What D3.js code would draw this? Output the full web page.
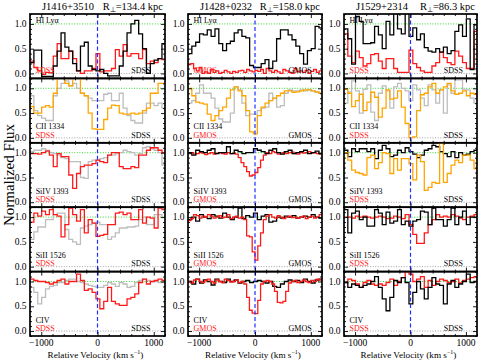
<!DOCTYPE html>
<html><head><meta charset="utf-8">
<script src="https://cdn.jsdelivr.net/npm/d3@7"></script>
<style>body{margin:0;background:#fff}svg{display:block}text{font-family:"Liberation Serif","Times New Roman",serif}</style>
</head><body><svg id="c" width="479" height="364"></svg>
<script>
// ---------- data ----------
const sightlines = ["J1416+3510", "J1428+0232", "J1529+2314"];
const rperp = ["134.4", "158.0", "86.3"];
const instruments = ["SDSS", "GMOS", "SDSS"];
const ions = ["HI Lyα", "CII 1334", "SiIV 1393", "SiII 1526", "CIV"];
const xTicks = [-1000, 0, 1000];
const yTicks = [0.0, 0.5, 1.0];
const velStart = -1200, sdssStep = 69, gmosStep = 50;

// J1416+3510
const j1416_HI_black = [0.22,0.47,0.47,-0.06,-0.06,-0.06,0.15,0.45,0.82,0.53,0.45,0.2,0.05,0.55,0.63,0.15,0.08,0.05,0.08,0.0,-0.05,-0.05,-0.05,0.15,0.45,0.82,1.0,1.07,0.8,0.5,0.0,0.2,0.27,0.3,0.6];
const j1416_HI_red = [0.25,0.12,0.05,-0.02,0.02,0.01,0.35,0.6,0.3,0.3,0.45,0.3,0.05,0.0,0.05,0.05,0.1,0.4,0.03,0.05,0.05,0.1,0.48,0.35,0.58,0.35,0.4,0.4,0.3,0.48,0.2,0.25,0.22,0.3,0.28];
const j1416_CII_orange = [0.63,0.5,0.5,0.62,0.65,0.62,0.9,1.25,1.25,1.1,1.05,1.25,1.25,0.9,0.85,0.5,0.18,0.17,0.17,0.37,0.6,0.66,0.65,0.5,0.48,0.48,0.5,0.48,0.5,0.55,0.6,0.9,0.9,1.1,1.1];
const j1416_CII_gray = [0.85,0.55,0.45,0.4,0.35,0.35,0.85,1.0,1.1,1.15,1.05,1.1,1.0,0.9,0.85,0.8,0.75,0.75,0.75,0.88,0.9,0.75,0.75,0.9,0.6,0.45,0.35,0.3,0.3,0.5,0.7,0.7,0.65,0.7,0.6];
const j1416_SiIV_red = [0.98,0.98,0.97,1.0,1.03,0.95,0.72,0.98,0.92,0.92,0.55,0.28,0.58,0.72,0.75,0.75,0.78,0.85,0.82,0.8,0.95,1.0,1.0,0.72,0.68,0.68,0.72,0.7,0.95,0.95,1.05,1.1,1.1,1.05,1.0];
const j1416_SiIV_gray = [1.02,1.05,1.05,1.08,1.05,1.0,0.98,0.95,0.9,0.88,0.82,0.82,0.82,0.5,0.48,0.82,0.85,0.85,0.88,0.9,0.95,0.95,0.98,1.0,1.05,1.02,1.0,0.95,0.98,1.1,1.12,1.08,1.05,1.0,0.75];
const j1416_SiII_red = [0.9,1.08,1.02,1.12,1.05,1.15,1.05,1.02,0.6,0.85,1.18,1.05,0.92,1.15,0.68,0.95,0.88,0.61,0.63,0.65,0.85,0.85,1.08,1.1,1.05,1.08,0.95,0.95,1.15,0.88,1.0,0.98,0.78,1.18,1.15];
const j1416_SiII_gray = [0.55,0.7,0.8,0.8,0.95,0.95,1.05,1.08,1.08,0.75,0.55,0.5,0.45,0.78,0.82,0.85,0.88,0.9,0.85,0.85,0.55,0.6,0.68,0.78,0.78,0.8,0.8,0.82,0.95,1.0,0.85,0.85,1.05,1.05,1.0];
const j1416_CIV_red = [1.05,1.02,1.0,1.0,0.98,0.95,0.98,1.02,1.05,0.95,1.0,1.0,1.15,1.02,0.82,0.85,0.78,0.65,0.45,0.6,0.88,0.6,0.55,0.52,0.52,0.65,0.68,0.75,0.98,1.05,0.95,1.0,1.02,1.05,1.02];
const j1416_CIV_gray = [0.88,0.78,0.55,0.68,0.85,0.9,0.92,0.98,0.98,1.02,1.05,1.05,1.0,0.98,0.95,0.92,0.9,0.88,0.88,0.92,0.98,0.95,0.9,0.98,0.95,0.88,0.9,0.98,1.02,1.05,1.02,1.0,1.0,0.98,0.98];

// J1428+0232
const j1428_HI_black = [0.4,0.55,0.63,0.8,0.78,0.88,0.75,0.9,0.6,0.46,0.6,0.65,0.82,0.88,0.75,0.72,0.16,0.12,0.12,0.2,0.28,0.1,0.25,0.7,0.88,0.88,0.78,0.68,0.55,0.4,0.19,0.46,0.5,0.95,0.92];
const j1428_HI_red = [0.18,0.2,0.1,0.05,0.12,0.0,0.03,0.0,0.08,0.02,0.05,0.0,0.02,0.06,0.03,0.0,0.04,0.02,0.05,0.06,0.02,0.08,0.05,0.03,0.06,0.04,0.08,0.0,0.1,0.05,0.02,0.06,0.03,0.0,0.08,0.05,0.02,0.0,0.1,0.03,0.05,0.02,0.06,0.0,0.04,0.08,0.02,0.05];
const j1428_CII_orange = [1.0,0.85,0.72,0.7,0.68,0.48,0.35,0.45,0.55,0.62,0.8,0.97,1.03,0.95,0.85,0.55,0.12,0.08,0.45,0.62,0.7,0.75,0.8,0.85,0.9,0.95,0.95,0.92,0.93,0.95,0.97,0.97,0.95,0.93,0.9];
const j1428_CII_gray = [0.7,0.75,0.9,1.07,0.9,0.9,0.8,0.6,0.38,0.32,0.32,0.5,1.03,0.97,0.7,0.45,0.48,0.48,0.55,0.6,0.62,0.9,0.8,0.62,0.65,0.9,0.97,0.95,0.95,0.97,0.95,0.97,0.95,0.92,0.9];
const j1428_SiIV_black = [1.0,0.95,1.05,1.02,1.0,1.05,1.08,0.98,1.0,1.0,1.12,0.98,1.05,1.02,0.98,1.0,1.0,1.08,1.05,1.02,0.98,1.05,1.08,1.0,0.97,1.02,1.05,0.98,1.0,1.02,1.05,0.98,1.0,1.03,0.98];
const j1428_SiIV_red = [0.98,1.0,0.97,0.98,1.0,0.99,0.96,0.98,1.0,0.97,0.99,1.0,0.98,0.97,1.0,0.98,0.99,0.97,0.9,0.8,0.72,0.62,0.53,0.55,0.6,0.7,0.85,0.95,1.0,0.98,1.02,1.0,0.97,0.99,1.0,0.98,1.0,1.01,0.98,0.97,1.0,0.99,1.0,1.02,0.99,1.0,0.98,0.97];
const j1428_SiII_black = [0.95,1.0,0.92,1.05,1.0,0.97,1.05,1.02,0.98,1.08,1.0,0.95,1.0,1.18,0.97,1.03,1.0,1.08,0.95,1.02,1.05,0.9,0.92,1.0,0.98,1.02,1.0,1.03,0.98,1.0,1.02,1.0,1.05,1.0,0.98];
const j1428_SiII_red = [0.93,0.97,1.05,1.03,0.98,1.02,1.0,1.05,1.02,0.98,1.0,1.03,0.99,1.0,1.05,0.97,1.0,1.02,0.98,1.0,0.95,0.62,0.6,0.3,0.13,0.42,0.68,0.95,1.02,1.05,1.0,0.98,1.03,1.0,0.97,1.0,1.02,0.99,1.0,0.98,1.0,1.02,0.97,1.0,1.02,0.98,1.0,1.05];
const j1428_CIV_black = [1.0,0.95,1.05,0.97,1.03,1.0,0.93,1.05,1.0,0.98,1.05,1.0,1.03,0.97,1.0,1.02,0.98,1.0,1.02,1.0,0.97,1.0,0.9,0.88,0.95,1.0,1.03,1.0,1.02,0.98,1.05,1.0,0.97,1.03,1.05];
const j1428_CIV_red = [1.0,0.97,1.03,1.05,1.0,0.98,1.02,1.05,1.0,0.97,1.03,1.0,0.98,1.05,1.02,0.99,1.0,1.03,0.98,1.0,0.95,0.68,0.42,0.36,0.35,0.62,0.95,1.0,1.02,1.0,0.95,0.8,0.58,0.57,0.6,0.8,0.97,1.0,1.02,0.98,1.0,1.03,1.0,0.98,1.02,1.0,1.05,1.03];

// J1529+2314
const j1529_HI_black = [0.9,0.7,0.19,1.15,1.05,0.6,0.6,0.62,0.95,0.78,0.5,1.05,0.78,1.3,0.9,0.8,1.3,0.75,0.92,0.68,0.8,0.52,0.45,0.43,0.5,0.43,0.53,0.4,0.46,0.85,0.98,0.75,1.1,0.08,0.98];
const j1529_HI_red = [0.8,0.35,0.22,0.45,0.32,0.15,0.2,0.38,0.4,0.25,0.1,0.3,0.3,0.1,0.02,0.02,0.02,0.47,0.2,0.12,0.05,0.02,0.02,0.15,0.22,0.43,0.32,0.22,0.18,0.45,0.35,0.22,0.1,0.1,0.85];
const j1529_CII_orange = [0.98,0.9,0.63,0.75,0.88,0.55,0.72,0.92,0.82,0.42,0.6,0.97,0.78,0.8,0.95,0.62,0.29,0.0,0.02,0.55,0.87,0.9,1.03,1.1,0.9,0.97,1.03,1.1,0.95,0.88,0.9,0.95,0.85,0.9,0.88];
const j1529_CII_gray = [0.7,0.93,1.15,0.95,0.5,0.98,1.07,0.52,0.35,0.9,1.05,0.95,0.6,1.03,1.1,1.0,0.95,0.75,1.07,0.97,0.8,0.65,1.07,0.97,0.7,0.97,0.5,1.07,0.9,1.17,1.17,0.97,0.97,0.8,0.7];
const j1529_SiIV_black = [1.05,0.92,1.08,1.02,1.08,1.08,1.02,1.08,0.88,1.05,1.15,1.08,0.92,0.95,1.05,1.0,1.1,1.02,0.97,0.9,0.95,1.05,1.08,1.15,1.12,1.02,0.98,0.92,1.02,0.9,1.0,0.95,0.97,1.02,1.05];
const j1529_SiIV_orange = [1.0,0.85,0.65,0.6,0.58,0.55,0.9,0.95,0.68,0.8,1.0,0.98,0.58,0.88,0.65,0.88,0.88,0.78,0.45,0.95,0.82,0.24,0.3,0.4,0.38,1.19,0.4,0.58,0.75,0.85,0.8,0.95,0.95,0.85,0.68];
const j1529_SiII_black = [1.15,0.68,1.08,1.12,0.95,1.0,0.82,0.82,1.15,1.08,0.85,1.1,0.88,0.92,1.15,0.85,0.92,0.82,0.92,0.95,1.12,1.1,0.85,1.18,0.95,0.95,0.82,0.95,1.18,0.85,1.0,1.12,0.85,1.0,1.0];
const j1529_SiII_red = [1.0,1.0,0.98,1.02,1.0,1.02,1.0,0.98,1.0,1.02,1.0,0.97,0.98,1.02,1.0,0.97,1.05,0.85,0.65,0.47,0.47,0.68,0.85,0.95,1.05,1.0,1.02,1.0,1.05,1.02,0.98,0.95,1.0,1.02,1.05];
const j1529_CIV_black = [0.98,0.88,0.95,0.92,0.88,0.92,0.95,1.0,1.1,0.88,0.65,0.41,0.68,1.02,0.98,1.08,0.98,0.55,0.78,1.0,0.85,0.65,0.88,1.08,0.95,0.92,0.55,0.95,1.02,0.88,0.95,1.0,1.15,0.98,1.0];
const j1529_CIV_red = [0.98,1.05,1.02,0.95,0.88,0.98,1.02,0.95,0.92,0.95,0.92,0.98,1.05,0.92,1.0,1.08,1.2,1.15,1.0,1.05,1.1,0.88,1.02,0.92,1.0,1.05,1.02,0.98,1.0,1.05,0.97,1.02,1.05,1.08,1.1];

// ---------- colours ----------
const C = {black:"#000", red:"#ff1a1a", orange:"#ffa500", gray:"#bdbdbd"};

// panel table: [col][row] -> series in draw order
const S = (d, color, step) => ({d, color, step: step || sdssStep});
const panels = [
  [[S(j1416_HI_red,C.red), S(j1416_HI_black,C.black)],
   [S(j1416_CII_gray,C.gray), S(j1416_CII_orange,C.orange)],
   [S(j1416_SiIV_gray,C.gray), S(j1416_SiIV_red,C.red)],
   [S(j1416_SiII_gray,C.gray), S(j1416_SiII_red,C.red)],
   [S(j1416_CIV_gray,C.gray), S(j1416_CIV_red,C.red)]],
  [[S(j1428_HI_red,C.red,gmosStep), S(j1428_HI_black,C.black)],
   [S(j1428_CII_gray,C.gray), S(j1428_CII_orange,C.orange)],
   [S(j1428_SiIV_red,C.red,gmosStep), S(j1428_SiIV_black,C.black)],
   [S(j1428_SiII_black,C.black), S(j1428_SiII_red,C.red,gmosStep)],
   [S(j1428_CIV_black,C.black), S(j1428_CIV_red,C.red,gmosStep)]],
  [[S(j1529_HI_red,C.red), S(j1529_HI_black,C.black)],
   [S(j1529_CII_gray,C.gray), S(j1529_CII_orange,C.orange)],
   [S(j1529_SiIV_black,C.black), S(j1529_SiIV_orange,C.orange)],
   [S(j1529_SiII_red,C.red), S(j1529_SiII_black,C.black)],
   [S(j1529_CIV_red,C.red), S(j1529_CIV_black,C.black)]]
];

// ---------- layout ----------
const svg = d3.select("#c");
const cols = [[30,165],[188,322],[344,477]];
const plotTop = 14, plotBottom = 336, nRows = 5;
const rowH = (plotBottom - plotTop) / nRows;

panels.forEach((colPanels, ci) => {
  const [x0, x1] = cols[ci];
  const w = x1 - x0;
  const x = d3.scaleLinear().domain([-1200, 1200]).range([0, w]);
  // titles
  svg.append("text").attr("x", x0 + 12).attr("y", 10).attr("font-size", 10.5).text(sightlines[ci]);
  const rt = svg.append("text").attr("x", x1 - 2).attr("y", 10).attr("font-size", 10.5).attr("text-anchor", "end");
  rt.append("tspan").text("R");
  rt.append("tspan").attr("font-size", 7).attr("dy", 2).text("⊥");
  rt.append("tspan").attr("dy", -2).text("=" + rperp[ci] + " kpc");

  colPanels.forEach((series, ri) => {
    const y0 = plotTop + ri * rowH;
    const h = rowH;
    const y = d3.scaleLinear().domain([-0.1, 1.2]).range([h, 0]);
    const g = svg.append("g").attr("transform", `translate(${x0},${y0})`);
    const cid = `clip${ci}_${ri}`;
    g.append("clipPath").attr("id", cid).append("rect").attr("width", w).attr("height", h);
    const pg = g.append("g").attr("clip-path", `url(#${cid})`);

    // reference lines
    pg.append("line").attr("x1", 0).attr("x2", w).attr("y1", y(1)).attr("y2", y(1))
      .attr("stroke", "#33d633").attr("stroke-width", 1).attr("stroke-dasharray", "1,1.6");
    pg.append("line").attr("x1", 0).attr("x2", w).attr("y1", y(0)).attr("y2", y(0))
      .attr("stroke", "#9a9a9a").attr("stroke-width", 0.9).attr("stroke-dasharray", "1,1.6");

    // spectra
    const line = d3.line().x(d => x(d[0])).y(d => y(d[1])).curve(d3.curveStepAfter);
    series.forEach(s => {
      const pts = s.d.map((v, i) => [velStart + i * s.step, v]);
      pts.push([velStart + s.d.length * s.step, s.d[s.d.length - 1]]);
      pg.append("path").attr("d", line(pts)).attr("fill", "none")
        .attr("stroke", s.color).attr("stroke-width", 1.3).attr("stroke-linejoin", "miter");
    });

    // zero velocity
    pg.append("line").attr("x1", x(0)).attr("x2", x(0)).attr("y1", 0).attr("y2", h)
      .attr("stroke", "#1f2fff").attr("stroke-width", 1.2).attr("stroke-dasharray", "4,2.5");

    // axes (inward ticks)
    g.append("g").attr("transform", `translate(0,${h})`).call(d3.axisBottom(x).tickValues(xTicks).tickSize(-4).tickFormat(""));
    g.append("g").call(d3.axisTop(x).tickValues(xTicks).tickSize(-4).tickFormat(""));
    const minorX = d3.range(-1200, 1201, 200).filter(v => !xTicks.includes(v));
    g.append("g").attr("transform", `translate(0,${h})`).call(d3.axisBottom(x).tickValues(minorX).tickSize(-2).tickFormat(""));
    g.append("g").call(d3.axisTop(x).tickValues(minorX).tickSize(-2).tickFormat(""));
    g.append("g").call(d3.axisLeft(y).tickValues(yTicks).tickSize(-4).tickFormat(""));
    g.append("g").attr("transform", `translate(${w},0)`).call(d3.axisRight(y).tickValues(yTicks).tickSize(-4).tickFormat(""));
    const minorY = [-0.1,0.1,0.2,0.3,0.4,0.6,0.7,0.8,0.9,1.1,1.2];
    g.append("g").call(d3.axisLeft(y).tickValues(minorY).tickSize(-2).tickFormat(""));
    g.append("g").attr("transform", `translate(${w},0)`).call(d3.axisRight(y).tickValues(minorY).tickSize(-2).tickFormat(""));
    g.selectAll(".domain").remove();
    g.selectAll(".tick line").attr("stroke", "#000").attr("stroke-width", 0.9);

    // y tick labels
    yTicks.forEach(t => {
      g.append("text").attr("x", -3.5).attr("y", y(t) + 3.2).attr("text-anchor", "end")
        .attr("font-size", 9.5).text(t.toFixed(1));
    });

    // frame
    g.append("rect").attr("width", w).attr("height", h).attr("fill", "none")
      .attr("stroke", "#000").attr("stroke-width", 1.7);

    // labels
    const lf = 8;
    if (ri === 0) {
      g.append("text").attr("x", x(-1100)).attr("y", 9).attr("font-size", lf).text(ions[ri]);
    } else {
      g.append("text").attr("x", x(-1100)).attr("y", y(0) - 8.5).attr("font-size", lf).text(ions[ri]);
    }
    g.append("text").attr("x", x(-1100)).attr("y", y(0) - 0.3).attr("font-size", lf)
      .attr("fill", C.red).text(instruments[ci]);
    g.append("text").attr("x", x(600)).attr("y", y(0) - 0.3).attr("font-size", lf)
      .attr("fill", "#000").text(instruments[ci]);

    // x tick labels on bottom row
    if (ri === nRows - 1) {
      xTicks.forEach(t => {
        g.append("text").attr("x", x(t)).attr("y", h + 10).attr("text-anchor", "middle")
          .attr("font-size", 9.5).text(t < 0 ? "\u2212" + Math.abs(t) : String(t));
      });
    }
  });

  // x axis title
  const xt = svg.append("text").attr("x", (x0 + x1) / 2 - 2).attr("y", 357.5).attr("text-anchor", "middle").attr("font-size", 9.2);
  xt.append("tspan").text("Relative Velocity (km s");
  xt.append("tspan").attr("font-size", 6).attr("dy", -3.5).text("\u22121");
  xt.append("tspan").attr("dy", 3.5).text(")");
});

// y axis title
svg.append("text").attr("transform", `translate(14,${(plotTop + plotBottom) / 2}) rotate(-90)`)
  .attr("text-anchor", "middle").attr("font-size", 15).text("Normalized Flux");
</script></body></html>
